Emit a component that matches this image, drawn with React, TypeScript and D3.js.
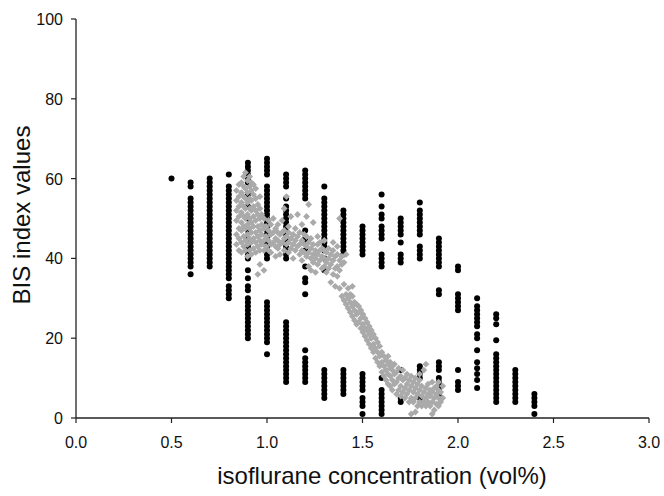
import React from "react";
import * as d3 from "d3";

// Black dots: measured BIS values at discrete isoflurane concentrations
const blackColumns: [number, number[]][] = [
  [0.5, [60]],
  [0.6, [59, 58, 55, 54, 53, 52, 51, 50, 49, 48, 47, 46, 45, 44, 43, 42, 41, 40, 39, 38, 36]],
  [0.7, [60, 59, 58, 57, 56, 55, 54, 53, 52, 51, 50, 49, 48, 47, 46, 45, 44, 43, 42, 41, 40, 39, 38]],
  [0.8, [61, 58, 57, 56, 55, 54, 53, 52, 51, 50, 49, 48, 47, 46, 45, 44, 43, 42, 41, 40, 39, 38, 37, 36, 35, 33, 32, 31, 30]],
  [0.9, [64, 63, 62, 61, 60, 59, 56, 53, 50, 47, 45, 43, 42, 41, 40, 37, 35, 33, 32, 30, 29, 28, 27, 26, 25, 24, 23, 22, 21, 20]],
  [1.0, [65, 64, 63, 62, 61, 58, 57, 56, 55, 54, 53, 52, 51, 50, 49, 48, 47, 46, 45, 44, 43, 42, 41, 40, 29, 28, 27, 26, 25, 24, 23, 22, 21, 20, 19, 16]],
  [1.1, [61, 60, 59, 58, 55, 53, 52, 51, 50, 49, 48, 47, 46, 45, 44, 43, 42, 41, 40, 24, 23, 22, 21, 20, 19, 18, 17, 16, 15, 14, 13, 12, 11, 10, 9]],
  [1.2, [62, 61, 60, 59, 58, 57, 56, 55, 47, 45, 44, 42, 38, 35, 34, 31, 17, 15, 14, 13, 12, 11, 10, 9]],
  [1.3, [58, 55, 54, 53, 52, 51, 50, 49, 48, 47, 46, 45, 44, 43, 42, 40, 37, 12, 11, 10, 9, 8, 7, 6, 5]],
  [1.4, [52, 51, 50, 49, 48, 47, 46, 45, 44, 43, 42, 41, 12, 11, 10, 9, 8, 7, 6]],
  [1.5, [48, 47, 46, 45, 44, 43, 42, 41, 11, 10, 9, 8, 7, 5, 4, 3, 1]],
  [1.6, [56, 53, 51, 50, 48, 47, 46, 45, 41, 40, 39, 38, 10, 7, 6, 5, 4, 3, 2, 1]],
  [1.7, [50, 49, 48, 47, 46, 44, 41, 40, 39, 12, 5, 4]],
  [1.8, [54, 52, 51, 50, 49, 48, 47, 46, 43, 42, 41, 40, 13, 12, 11, 10, 5]],
  [1.9, [45, 44, 43, 42, 41, 40, 39, 38, 32, 31, 14, 13, 12, 10, 9, 8, 7, 6]],
  [2.0, [38, 37, 31, 30, 29, 28, 27, 12, 9, 8, 7]],
  [2.1, [30, 28, 27, 26, 25, 24, 23, 21, 20, 17, 14, 12.5, 11, 9.5, 7.5]],
  [2.2, [26, 25, 23.5, 19.5, 16, 15, 14, 13, 12, 11, 10, 9, 8, 7, 6, 5, 4]],
  [2.3, [12, 11, 10, 9, 8, 7, 6, 5, 4]],
  [2.4, [6, 5, 4, 3, 1]],
];

// Gray points: [concentration, BIS values]
const grayColumns: [number, number[]][] = [
  [0.84, [43.5, 46, 49.5, 52, 54.5, 57]],
  [0.853, [42, 45, 47.5, 50.5, 53, 55.5, 58.5]],
  [0.866, [41.5, 44, 47, 49, 51.5, 54, 56.5, 59]],
  [0.878, [43, 45.5, 48, 50.5, 53, 55.5, 58, 60.5]],
  [0.887, [42, 44.5, 47.5, 50, 52.5, 55, 57.5, 61.5]],
  [0.898, [40.5, 43.5, 46, 48.5, 51, 54, 56.5, 59.5]],
  [0.909, [42, 45, 47.5, 50, 52.5, 55, 58, 60.5]],
  [0.918, [41, 44, 46.5, 49, 52, 54.5, 57, 59]],
  [0.929, [42.5, 45, 48, 50.5, 53, 56, 58.5]],
  [0.941, [41.5, 44, 46.5, 49.5, 52, 55, 57.5]],
  [0.952, [36, 43, 45.5, 48, 51, 53.5]],
  [0.963, [38.5, 42, 44.5, 47, 50, 52.5, 55.5]],
  [0.972, [43.5, 46, 48.5, 51]],
  [0.984, [37, 42, 44.5, 47.5, 50]],
  [0.995, [43, 45.5, 48]],
  [1.008, [42, 44.5, 47, 49.5]],
  [1.02, [41.5, 43.5, 46, 48.5]],
  [1.033, [44, 46.5, 50]],
  [1.045, [40.5, 43, 45, 47.5]],
  [1.057, [42.5, 44.5, 46.5, 48.5]],
  [1.068, [41, 43.5, 46]],
  [1.079, [44, 46.5, 49.5]],
  [1.09, [42, 45, 47, 52.5]],
  [1.102, [43.5, 45.5, 55.5]],
  [1.113, [41.5, 44, 46.5, 48]],
  [1.125, [42.5, 45, 50.5]],
  [1.137, [40, 43.5, 46]],
  [1.148, [42, 44.5, 47.5]],
  [1.16, [43, 45.5, 51]],
  [1.171, [41, 43.5, 46.5]],
  [1.183, [39.5, 42, 44.5, 48.5]],
  [1.195, [41.5, 43.5, 46]],
  [1.207, [40.5, 43, 45.5, 50.5]],
  [1.218, [38, 41.5, 44, 53.5]],
  [1.23, [37, 40, 42.5, 45]],
  [1.242, [39, 41, 43.5, 49]],
  [1.254, [36.5, 40, 42]],
  [1.265, [38.5, 41, 43.5, 45.5]],
  [1.277, [39.5, 42, 44]],
  [1.288, [37.5, 40.5, 42.5]],
  [1.3, [38, 40, 42, 44.5]],
  [1.311, [36.5, 39, 41.5]],
  [1.323, [37.5, 40, 42.5]],
  [1.334, [34, 38.5, 41]],
  [1.346, [36, 39.5, 42, 44]],
  [1.357, [33, 37.5, 40.5]],
  [1.368, [35.5, 38, 41, 43]],
  [1.38, [32.5, 37, 39.5, 50]],
  [1.392, [30.5, 38.5, 40.5]],
  [1.403, [29.5, 33.5, 39]],
  [1.414, [28.5, 31, 41]],
  [1.425, [27.5, 30, 32.5]],
  [1.436, [26.5, 29, 31]],
  [1.447, [25.5, 28, 30.5, 33]],
  [1.458, [24.5, 27, 29]],
  [1.469, [23.5, 26, 28.5]],
  [1.48, [24, 26.5, 28]],
  [1.491, [22.5, 25, 27]],
  [1.502, [21.5, 23.5, 26]],
  [1.513, [20.5, 22.5, 25]],
  [1.524, [19.5, 22, 24]],
  [1.535, [18.5, 21, 23]],
  [1.546, [17.5, 20, 22]],
  [1.557, [16.5, 18.5, 21]],
  [1.568, [15, 17.5, 20]],
  [1.579, [14, 16.5, 19]],
  [1.59, [13, 15.5, 18]],
  [1.601, [11.5, 14, 16.5]],
  [1.612, [10.5, 13, 15.5]],
  [1.623, [9.5, 12, 14.5]],
  [1.634, [8.5, 11, 13.5, 15.5]],
  [1.645, [8, 10.5, 12.5, 14]],
  [1.656, [7, 9.5, 12, 13]],
  [1.667, [8.5, 11, 13.5]],
  [1.678, [6, 9, 11.5]],
  [1.689, [7, 10, 12.5]],
  [1.7, [5.5, 8, 10.5]],
  [1.711, [6.5, 9.5, 12]],
  [1.722, [5, 7.5, 10]],
  [1.733, [6, 8.5, 11]],
  [1.744, [4, 7, 9.5]],
  [1.755, [1, 5, 8, 10.5]],
  [1.766, [4, 6.5, 9]],
  [1.777, [1.5, 5, 7.5, 10]],
  [1.788, [3, 6, 8.5]],
  [1.799, [4, 7, 9.5, 11]],
  [1.81, [3, 5.5, 8]],
  [1.821, [4, 6.5, 12]],
  [1.832, [3, 5, 7.5, 13.5]],
  [1.843, [4, 6, 8.5]],
  [1.854, [3, 5.5, 7]],
  [1.865, [1, 4, 6.5, 9]],
  [1.876, [2, 5, 7.5]],
  [1.887, [3.5, 6, 8]],
  [1.898, [3, 5, 7, 9]],
  [1.909, [4, 6.5]],
  [1.92, [5, 8]],
];

const xTicks = [0, 0.5, 1.0, 1.5, 2.0, 2.5, 3.0];
const yTicks = [0, 20, 40, 60, 80, 100];
const xTitle = "isoflurane concentration (vol%)";
const yTitle = "BIS index values";

const W = 664;
const H = 496;
const FONT = "'Liberation Sans', Arial, Helvetica, sans-serif";

export default function App() {
  const x = d3.scaleLinear().domain([0, 3]).range([76, 649]);
  const y = d3.scaleLinear().domain([0, 100]).range([418, 19]);

  const blackPts = blackColumns.flatMap(([cx, vals]) => vals.map((v) => [cx, v] as [number, number]));
  const grayPts = grayColumns.flatMap(([cx, vals]) => vals.map((v) => [cx, v] as [number, number]));
  const diamond = d3.symbol().type(d3.symbolDiamond2).size(30)()!;

  return (
    <div style={{ position: "fixed", left: 0, top: 0, width: W, height: H, background: "#fff" }}>
      <svg width={W} height={H} style={{ display: "block" }}>
        <rect width={W} height={H} fill="#fff" />
        {/* axes */}
        <line x1={x(0)} x2={x(3)} y1={y(0)} y2={y(0)} stroke="#222" strokeWidth={1.3} />
        <line x1={x(0)} x2={x(0)} y1={y(0)} y2={y(100)} stroke="#222" strokeWidth={1.3} />
        {xTicks.map((t) => (
          <g key={"xt" + t}>
            <line x1={x(t)} x2={x(t)} y1={y(0)} y2={y(0) + 5} stroke="#222" strokeWidth={1.2} />
            <text x={x(t)} y={448} textAnchor="middle" fontFamily={FONT} fontSize={16} fill="#111">
              {d3.format(".1f")(t)}
            </text>
          </g>
        ))}
        {yTicks.map((t) => (
          <g key={"yt" + t}>
            <line x1={x(0) - 5} x2={x(0)} y1={y(t)} y2={y(t)} stroke="#222" strokeWidth={1.2} />
            <text x={63} y={y(t) + 6} textAnchor="end" fontFamily={FONT} fontSize={16} fill="#111">
              {t}
            </text>
          </g>
        ))}
        {/* black points */}
        {blackPts.map(([cx, v], i) => (
          <circle key={"b" + i} cx={x(cx)} cy={y(v)} r={3} fill="#000" />
        ))}
        {/* gray points */}
        {grayPts.map(([cx, v], i) => (
          <path key={"g" + i} d={diamond} transform={`translate(${x(cx)},${y(v)})`} fill="#aaaaaa" />
        ))}
        {/* titles */}
        <text x={382} y={484} textAnchor="middle" fontFamily={FONT} fontSize={24} fill="#111">
          {xTitle}
        </text>
        <text
          transform={`translate(30,215) rotate(-90)`}
          textAnchor="middle"
          fontFamily={FONT}
          fontSize={24}
          fill="#111"
        >
          {yTitle}
        </text>
      </svg>
    </div>
  );
}
